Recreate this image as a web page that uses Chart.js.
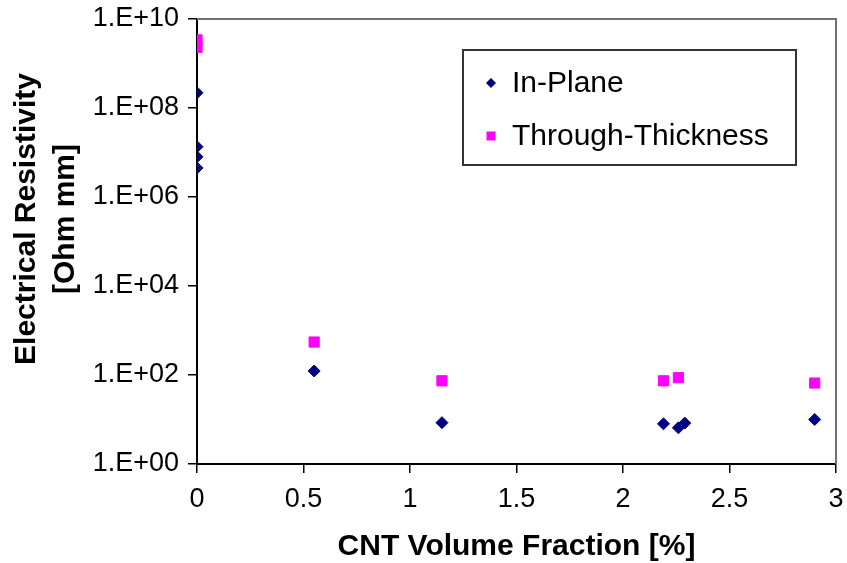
<!DOCTYPE html>
<html>
<head>
<meta charset="utf-8">
<script src="https://cdn.jsdelivr.net/npm/chart.js@4/dist/chart.umd.min.js"></script>
<style>
  html, body { margin: 0; padding: 0; background: #fff; }
  #wrap { width: 847px; height: 563px; }
</style>
</head>
<body>
<div id="wrap"><canvas id="chart" width="847" height="563"></canvas></div>
<script>
// CNT volume fraction [%] and resistivity [Ohm mm]
const inPlaneX = [0, 0, 0, 0, 0.55, 1.15, 2.19, 2.26, 2.29, 2.9];
const inPlaneY = [2.2e8, 1.35e7, 8e6, 4.5e6, 123, 8.5, 8, 6.5, 8.3, 10];
const throughX = [0, 0, 0.55, 1.15, 2.19, 2.26, 2.9];
const throughY = [3.4e9, 2.3e9, 550, 74, 74, 87, 66];
const yTicks = [1, 1e2, 1e4, 1e6, 1e8, 1e10];
const xTicks = [0, 0.5, 1, 1.5, 2, 2.5, 3];

const FONT = "'Liberation Sans', Arial, sans-serif";

function toPoints(xs, ys) {
    return xs.map(function(x, i){ return {x: x, y: ys[i]}; });
}

function sciLabel(v) {
    const e = Math.round(Math.log10(v));
    return '1.E+' + (e < 10 ? '0' + e : e);
}

// gray frame on top and right of plot area
const frame = {
    id: 'frame',
    beforeDatasetsDraw(chart) {
        const a = chart.chartArea, ctx = chart.ctx;
        ctx.save();
        ctx.strokeStyle = '#707070';
        ctx.lineWidth = 2;
        ctx.beginPath();
        ctx.moveTo(a.left, a.top);
        ctx.lineTo(a.right, a.top);
        ctx.lineTo(a.right, a.bottom);
        ctx.stroke();
        ctx.restore();
    }
};

// y axis title, two lines, sits a bit above centre like the original
const yTitle = {
    id: 'yTitle',
    afterDraw(chart) {
        const ctx = chart.ctx;
        ctx.save();
        ctx.translate(27, 219);
        ctx.rotate(-Math.PI / 2);
        ctx.font = 'bold 30px ' + FONT;
        ctx.fillStyle = '#000';
        ctx.textAlign = 'center';
        ctx.textBaseline = 'middle';
        ctx.fillText('Electrical Resistivity', 0, 0);
        ctx.fillText('[Ohm mm]', 0, 39);
        ctx.restore();
    }
};

// boxed legend inside the plot
const boxLegend = {
    id: 'boxLegend',
    afterDraw(chart) {
        const ctx = chart.ctx;
        const left = 463, top = 50, right = 796, bottom = 165;
        ctx.save();
        ctx.fillStyle = '#fff';
        ctx.fillRect(left, top, right - left, bottom - top);
        ctx.strokeStyle = '#333';
        ctx.lineWidth = 2;
        ctx.strokeRect(left, top, right - left, bottom - top);
        const rows = [83, 136];
        chart.data.datasets.forEach(function(ds, i){
            ctx.fillStyle = ds.backgroundColor;
            ctx.beginPath();
            if (ds.pointStyle === 'rect') {
                ctx.rect(491 - 4.5, rows[i] - 4.5, 9, 9);
            } else {
                ctx.moveTo(491, rows[i] - 5);
                ctx.lineTo(496, rows[i]);
                ctx.lineTo(491, rows[i] + 5);
                ctx.lineTo(486, rows[i]);
                ctx.closePath();
            }
            ctx.fill();
            ctx.fillStyle = '#000';
            ctx.font = '30px ' + FONT;
            ctx.textAlign = 'left';
            ctx.textBaseline = 'middle';
            ctx.fillText(ds.label, 512, rows[i] + 1);
        });
        ctx.restore();
    }
};

const data = {
    datasets: [{
        label: 'In-Plane',
        data: toPoints(inPlaneX, inPlaneY),
        pointStyle: 'rectRot',
        pointRadius: 6,
        borderWidth: 1,
        backgroundColor: '#000080',
        borderColor: '#000080',
        showLine: false
    }, {
        label: 'Through-Thickness',
        data: toPoints(throughX, throughY),
        pointStyle: 'rect',
        pointRadius: 7.2,
        borderWidth: 1,
        backgroundColor: '#ff00ff',
        borderColor: '#ff00ff',
        showLine: false
    }]
};

const config = {
    type: 'scatter',
    data: data,
    options: {
        responsive: false,
        animation: false,
        layout: { padding: { top: 19, right: 11, left: 0, bottom: 0 } },
        plugins: {
            legend: { display: false },
            tooltip: { enabled: false }
        },
        scales: {
            x: {
                type: 'linear',
                min: 0,
                max: 3,
                afterBuildTicks: function(scale){
                    scale.ticks = xTicks.map(function(v){ return {value: v}; });
                },
                afterFit: function(scale){
                    scale.height = 99;
                    scale.paddingLeft = 0;
                    scale.paddingRight = 0;
                },
                ticks: {
                    color: '#000',
                    padding: 10,
                    maxRotation: 0,
                    font: { family: FONT, size: 27 },
                    callback: function(v){ return String(v); }
                },
                grid: {
                    drawOnChartArea: false,
                    color: '#000',
                    lineWidth: 1.5,
                    tickLength: 9
                },
                border: { color: '#000', width: 2 },
                title: {
                    display: true,
                    text: 'CNT Volume Fraction [%]',
                    color: '#000',
                    font: { family: FONT, size: 30, weight: 'bold', lineHeight: 1 },
                    padding: { top: 0, bottom: 1 }
                }
            },
            y: {
                type: 'logarithmic',
                min: 1,
                max: 1e10,
                afterBuildTicks: function(scale){
                    scale.ticks = yTicks.map(function(v){ return {value: v}; });
                },
                afterFit: function(scale){
                    scale.width = 197;
                    scale.paddingTop = 0;
                    scale.paddingBottom = 0;
                },
                ticks: {
                    color: '#000',
                    padding: 9,
                    font: { family: FONT, size: 27 },
                    callback: function(v){ return sciLabel(v); }
                },
                grid: {
                    drawOnChartArea: false,
                    color: '#000',
                    lineWidth: 1.5,
                    tickLength: 9
                },
                border: { color: '#000', width: 2 }
            }
        }
    },
    plugins: [frame, yTitle, boxLegend]
};

new Chart(document.getElementById('chart'), config);
</script>
</body>
</html>
